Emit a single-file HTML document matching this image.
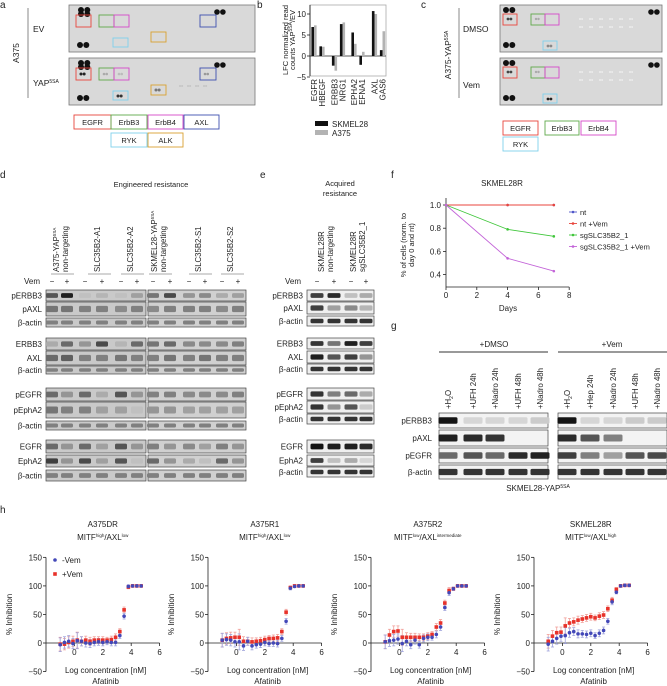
<!DOCTYPE html>
<html><head><meta charset="utf-8">
<style>
html,body{margin:0;padding:0;background:#fff;}
svg{display:block;font-family:"Liberation Sans",Arial,sans-serif;}
text{fill:#222;}
</style></head>
<body>
<svg id="fig" width="667" height="686" viewBox="0 0 667 686" xmlns="http://www.w3.org/2000/svg"></svg>
<script>
// ---------- panel b data ----------
const bCategories = ["EGFR","HBEGF","ERBB3","NRG1","EPHA2","EFNA1","AXL","GAS6"];
const bSkmel28 = [6.9,2.3,-2.3,7.6,5.6,-2.1,10.7,1.4];
const bA375 = [7.3,2.2,-3.5,8.0,2.9,1.0,10.0,5.9];
const bTicks = [10,5,0,-5];
// ---------- panel f data ----------
const fDays = [0,4,7];
const fNt = [1.0,1.0,1.0];
const fNtVem = [1.0,1.0,1.0];
const fSg = [1.0,0.79,0.73];
const fSgVem = [1.0,0.54,0.43];
const fXTicks = [0,2,4,6,8];
const fYTicks = [0.4,0.6,0.8,1.0];
// ---------- panel h data ----------
const hLogConc = [-1,-0.7,-0.4,-0.1,0.2,0.5,0.8,1.1,1.4,1.7,2.0,2.3,2.6,2.9,3.2,3.5,3.8,4.1,4.4,4.7];
const hTitles1 = ["A375DR","A375R1","A375R2","SKMEL28R"];
const hSup1 = ["high","high","low","low"];
const hSup2 = ["low","low","intermediate","high"];
const h1Minus = [-3,1,3,-1,4,3,0,-1,1,2,1,2,1,1,13,47,99,100,100,100];
const h1Plus  = [-2,-2,1,3,5,3,5,3,5,5,5,5,6,10,20,58,98,100,100,100];
const h2Minus = [5,6,5,2,2,-5,3,-5,-3,-2,1,-1,0,-1,8,38,96,99,100,100];
const h2Plus  = [5,8,9,10,10,3,3,2,3,4,6,8,8,9,20,54,97,100,100,100];
const h3Minus = [2,4,5,7,-1,3,-3,5,-3,8,10,10,15,28,62,88,95,100,100,100];
const h3Plus  = [2,14,20,21,10,10,10,10,10,10,12,15,28,35,70,92,95,100,100,100];
const h4Minus = [-2,3,8,12,13,18,20,16,16,15,17,13,17,22,38,72,89,100,101,101];
const h4Plus  = [3,12,18,19,30,35,37,40,42,44,46,44,47,49,60,75,94,100,101,101];
const hErr = [12,10,10,9,14,8,7,7,6,6,6,5,6,6,5,5,3,2,1,1];
const hXTicks = [0,2,4,6];
const hYTicks = [150,100,50,0,-50];

const NS="http://www.w3.org/2000/svg";
const svg=document.getElementById('fig');
function mk(tag,attrs,name,parent){
  const el=document.createElementNS(NS,tag);
  for(const k in attrs) el.setAttribute(k,attrs[k]);
  
  
  (parent||svg).appendChild(el);
  return el;
}
function txt(x,y,s,name,o){
  o=o||{};
  const a={x:x,y:y,'font-size':o.fs||7.5,'text-anchor':o.anchor||'start'};
  if(o.rot) a.transform='rotate(-90 '+x+' '+y+')';
  if(o.fill) a.fill=o.fill;
  const t=mk('text',a,name);
  t.innerHTML=s;
  return t;
}
function line(x1,y1,x2,y2,name,c,w){return mk('line',{x1:x1,y1:y1,x2:x2,y2:y2,stroke:c||'#222','stroke-width':w||0.8},name);}

[["a",0,8],["b",257,8],["c",421,8],["d",0,178],["e",260,178],["f",391,178],["g",391,329],["h",0,513]].forEach(p=>{
  txt(p[1],p[2],p[0],'panel-label-'+p[0],{fs:10});
});

function dotBlot(x,y,w,h,name){
  mk('rect',{x:x,y:y,width:w,height:h,fill:'#d9d9d9',stroke:'#777','stroke-width':0.8},name);
}
function pairDots(x,y,r,fill,name){
  mk('circle',{cx:x,cy:y,r:r,fill:fill},name);
  mk('circle',{cx:x+r*2.1,cy:y,r:r,fill:fill},name);
}
function box(x,y,w,h,c,name){mk('rect',{x:x,y:y,width:w,height:h,fill:'none',stroke:c,'stroke-width':0.9},name);}
txt(19,53,'A375','a-cell-line-label',{rot:true,anchor:'middle',fs:8.5});
line(28,8,28,98,'a-bracket-line','#888',1);
txt(33,32,'EV','a-ev-label',{fs:8.5});
txt(33,86,'YAP<tspan font-size="5" dy="-3">5SA</tspan>','a-yap-label',{fs:8.5});
const cols={egfr:'#e8453c',erbb3:'#5fa84a',erbb4:'#d447c8',axl:'#3d4fb0',ryk:'#7fd0ec',alk:'#d9a030'};
[[5,false],[58,true]].forEach(([y0,yap],k)=>{
  dotBlot(69,y0,186,47,'a-dot-blot-'+k);
  pairDots(81,y0+5,3,'#111','a-ref-dot'); pairDots(81,y0+9,3,'#111','a-ref-dot');
  pairDots(217,y0+7,2.8,'#111','a-ref-dot');
  pairDots(80,y0+40,3,'#111','a-ref-dot');
  box(76,y0+10,15,12,cols.egfr,'a-egfr-box');
  box(99,y0+10,15,12,cols.erbb3,'a-erbb3-box');
  box(114,y0+10,15,12,cols.erbb4,'a-erbb4-box');
  box(200,y0+10,16,12,cols.axl,'a-axl-box');
  box(113,y0+33,15,9,cols.ryk,'a-ryk-box');
  box(151,y0+27,15,10,cols.alk,'a-alk-box');
  if(yap){
    pairDots(81,y0+16,1.5,'#222','a-egfr-spot');
    pairDots(104,y0+16,1.3,'#aaa','a-erbb3-spot');
    pairDots(119,y0+16,1.3,'#bbb','a-erbb4-spot');
    pairDots(205,y0+16,1.3,'#999','a-axl-spot');
    pairDots(118,y0+38,1.5,'#333','a-ryk-spot');
    pairDots(156,y0+32,1.5,'#777','a-alk-spot');
    for(let i=0;i<4;i++){pairDots(180+i*8,y0+28,1,'#c4c4c4','a-faint-spot');}
  }
});
function legBox(x,y,w,h,c,label,name){
  box(x,y,w,h,c,name);
  txt(x+w/2,y+h/2+3,label,name+'-text',{anchor:'middle',fs:7.5});
}
legBox(74,115,37,14,cols.egfr,'EGFR','a-legend-egfr');
legBox(111,115,36,14,cols.erbb3,'ErbB3','a-legend-erbb3');
legBox(148,115,35,14,cols.erbb4,'ErbB4','a-legend-erbb4');
legBox(184,115,35,14,cols.axl,'AXL','a-legend-axl');
legBox(111,133,36,14,cols.ryk,'RYK','a-legend-ryk');
legBox(148,133,35,14,cols.alk,'ALK','a-legend-alk');

txt(451,55,'A375-YAP<tspan font-size="5" dy="-3">5SA</tspan>','c-cell-line-label',{rot:true,anchor:'middle',fs:8.5});
line(459,8,459,98,'c-bracket-line','#888',1);
txt(463,32,'DMSO','c-dmso-label',{fs:8.5});
txt(463,88,'Vem','c-vem-label',{fs:8.5});
[5,58].forEach((y0,k)=>{
  dotBlot(500,y0,162,47,'c-dot-blot-'+k);
  pairDots(506,y0+5,3,'#111','c-ref-dot');
  pairDots(651,y0+7,2.8,'#111','c-ref-dot');
  pairDots(506,y0+40,3,'#111','c-ref-dot');
  box(503,y0+9,14,11,cols.egfr,'c-egfr-box');
  box(531,y0+9,14,11,cols.erbb3,'c-erbb3-box');
  box(545,y0+9,14,11,cols.erbb4,'c-erbb4-box');
  box(543,y0+36,14,9,cols.ryk,'c-ryk-box');
  pairDots(508,y0+14,1.4,'#444','c-egfr-spot');
  pairDots(536,y0+14,1.2,'#aaa','c-erbb3-spot');
  pairDots(548,y0+41,1.4,k?'#222':'#888','c-ryk-spot');
  for(let i=0;i<6;i++){pairDots(580+i*10,y0+14,1,'#ececec','c-faint-spot');pairDots(580+i*10,y0+22,1,'#ececec','c-faint-spot');}
});
legBox(503,121,35,14,cols.egfr,'EGFR','c-legend-egfr');
legBox(545,121,34,14,cols.erbb3,'ErbB3','c-legend-erbb3');
legBox(581,121,35,14,cols.erbb4,'ErbB4','c-legend-erbb4');
legBox(503,137,35,14,cols.ryk,'RYK','c-legend-ryk');

// ---------- panel b chart ----------
const bY0=56, bPerUnit=4.2;
function bY(v){return bY0 - v*bPerUnit;}
function bX(i){return 314+ [0,8,20.5,28.5,40,48,60.5,68.5][i];}
mk('rect',{x:310,y:5,width:76,height:71,fill:'none',stroke:'#aaa','stroke-width':0.8},'b-plot-frame');
line(310,5,310,76,'b-y-axis','#222',0.9);
line(310,bY(0),386,bY(0),'b-zero-line','#222',0.7);
bTicks.forEach(t=>{line(307,bY(t),310,bY(t),'b-y-tick');txt(306,bY(t)+3,String(t).replace('-','−'),'b-y-tick-label',{anchor:'end',fs:8});});
txt(288,40,'LFC normalized read','b-y-axis-title-1',{rot:true,anchor:'middle',fs:7.5});
txt(295,40,'counts YAP<tspan font-size="5" dy="-3">5SA</tspan><tspan dy="3">/EV</tspan>','b-y-axis-title-2',{rot:true,anchor:'middle',fs:7.5});
bCategories.forEach((c,i)=>{
  const cx=bX(i);
  const v1=bSkmel28[i], v2=bA375[i];
  mk('rect',{x:cx-2.6,y:Math.min(bY(v1),bY(0)),width:2.6,height:Math.abs(bY(v1)-bY(0)),fill:'#111'},'b-bar-skmel28');
  mk('rect',{x:cx,y:Math.min(bY(v2),bY(0)),width:2.6,height:Math.abs(bY(v2)-bY(0)),fill:'#b3b3b3'},'b-bar-a375');
  txt(cx+3,79,c,'b-x-tick-label',{rot:true,anchor:'end',fs:8});
});
mk('rect',{x:315,y:121,width:13,height:5,fill:'#111'},'b-legend-skmel28-swatch');
txt(332,127,'SKMEL28','b-legend-skmel28',{fs:8});
mk('rect',{x:315,y:130,width:13,height:5,fill:'#b3b3b3'},'b-legend-a375-swatch');
txt(332,136,'A375','b-legend-a375',{fs:8});

// ---------- western blots ----------
function strip(x,y,w,h,bg,name){mk('rect',{x:x,y:y,width:w,height:h,fill:bg,stroke:'#444','stroke-width':0.7},name);}
function bands(lanes,ints,y,h,bw,name){
  lanes.forEach((lx,i)=>{
    const d=ints[i]; if(d<=0.02) return;
    const g=Math.round(235-215*d);
    mk('rect',{x:lx-bw/2,y:y+h*0.28,width:bw,height:h*0.44,rx:1.5,fill:'rgb('+g+','+g+','+g+')'},name);
  });
}
txt(151,187,'Engineered resistance','d-title',{anchor:'middle',fs:7.5});
const dLanes=[52,67,85,102,121,137,153,170,189,205,222,238];
const dColLabels=[['A375-YAP<tspan font-size="4.5" dy="-3">5SA</tspan>','non-targeting',60],['SLC35B2-A1',null,97],['SLC35B2-A2',null,130],['SKMEL28-YAP<tspan font-size="4.5" dy="-3">5SA</tspan>','non-targeting',158],['SLC35B2-S1',null,198],['SLC35B2-S2',null,230]];
dColLabels.forEach(c=>{
  if(c[1]){txt(c[2]-1,272,c[0],'d-column-label',{rot:true,fs:7.8});txt(c[2]+8,272,c[1],'d-column-label',{rot:true,fs:7.8});}
  else txt(c[2]+3,272,c[0],'d-column-label',{rot:true,fs:7.8});
  line(c[2]-9,274,c[2]+14,274,'d-column-underline','#555',0.6);
});
txt(40,284,'Vem','d-vem-label',{anchor:'end',fs:8});
dLanes.forEach((x,i)=>txt(x,284,i%2?'+':'−','d-vem-sign',{anchor:'middle',fs:8}));
const dRows=[
 ['pERBB3',290,11,[.7,.95,.2,.25,.2,.35,.55,.75,.4,.45,.3,.35]],
 ['pAXL',302,14,[.55,.55,.5,.5,.45,.5,.45,.5,.5,.5,.45,.5]],
 ['β-actin',318,9,[.5,.5,.5,.5,.5,.5,.5,.5,.5,.5,.5,.5]],
 ['ERBB3',338,12,[.3,.6,.4,.75,.25,.6,.55,.6,.45,.45,.45,.5]],
 ['AXL',351,14,[.6,.65,.5,.5,.55,.5,.5,.55,.5,.55,.5,.5]],
 ['β-actin',366,8,[.5,.5,.5,.5,.5,.5,.5,.5,.5,.5,.5,.5]],
 ['pEGFR',388,13,[.6,.4,.6,.3,.7,.4,.5,.5,.45,.45,.45,.5]],
 ['pEphA2',402,16,[.55,.5,.5,.35,.35,.2,.4,.4,.35,.35,.35,.35]],
 ['β-actin',421,9,[.5,.5,.5,.5,.5,.5,.5,.5,.5,.5,.5,.5]],
 ['EGFR',440,13,[.6,.4,.6,.35,.7,.4,.5,.4,.45,.35,.5,.4]],
 ['EphA2',455,12,[.8,.4,.75,.35,.7,.2,.6,.4,.3,.2,.6,.4]],
 ['β-actin',470,11,[.5,.5,.5,.5,.5,.5,.5,.5,.5,.5,.5,.5]]
];
dRows.forEach(r=>{
  txt(42,r[1]+r[2]/2+3,r[0],'d-row-label',{anchor:'end',fs:8});
  strip(46,r[1],100,r[2],'#c9c9c9','d-blot-strip');
  strip(148,r[1],98,r[2],'#d0d0d0','d-blot-strip');
  bands(dLanes,r[3],r[1],r[2],12,'d-band');
});
txt(340,186,'Acquired','e-title-1',{anchor:'middle'});
txt(340,196,'resistance','e-title-2',{anchor:'middle'});
[['SKMEL28R','non-targeting',321],['SKMEL28R','sgSLC35B2_1',353]].forEach(c=>{
  txt(c[2]+3,272,c[0],'e-column-label',{rot:true,fs:7.8});txt(c[2]+12,272,c[1],'e-column-label',{rot:true,fs:7.8});
});
const eLanes=[317,334,351,366];
txt(301,284,'Vem','e-vem-label',{anchor:'end',fs:8});
eLanes.forEach((x,i)=>txt(x,284,i%2?'+':'−','e-vem-sign',{anchor:'middle',fs:8}));
const eRows=[
 ['pERBB3',290,11,[.8,.9,.2,.3]],['pAXL',302,12,[.8,.35,.45,.25]],['β-actin',316,10,[.85,.85,.85,.85]],
 ['ERBB3',338,11,[.85,.55,.95,.8]],['AXL',351,12,[.95,.7,.8,.4]],['β-actin',364,10,[.85,.85,.85,.85]],
 ['pEGFR',388,12,[.85,.5,.6,.3]],['pEphA2',401,12,[.85,.4,.7,.15]],['β-actin',414,10,[.85,.85,.85,.85]],
 ['EGFR',440,13,[1,.95,.95,.9]],['EphA2',455,11,[.8,.2,.3,.1]],['β-actin',467,10,[.85,.85,.85,.85]]
];
eRows.forEach(r=>{
  txt(303,r[1]+r[2]/2+3,r[0],'e-row-label',{anchor:'end',fs:8});
  strip(307,r[1],67,r[2],'#efefef','e-blot-strip');
  bands(eLanes,r[3],r[1],r[2],13,'e-band');
});

// ---------- panel f chart ----------
const fX0=446, fPerDay=15.4, fYBase=205, fPerUnit=116;
function fx(d){return fX0+d*fPerDay;}
function fy(v){return fYBase-(v-1.0)*fPerUnit;}
txt(502,186,'SKMEL28R','f-title',{anchor:'middle',fs:8});
line(fx(0),198,fx(0),287,'f-y-axis');
line(fx(0),287,fx(8),287,'f-x-axis');
fYTicks.forEach(t=>{line(fx(0)-3,fy(t),fx(0),fy(t),'f-y-tick');txt(fx(0)-5,fy(t)+3,t.toFixed(1),'f-y-tick-label',{anchor:'end',fs:8});});
fXTicks.forEach(t=>{line(fx(t),287,fx(t),290,'f-x-tick');txt(fx(t),298,String(t),'f-x-tick-label',{anchor:'middle',fs:8});});
txt(508,311,'Days','f-x-axis-title',{anchor:'middle',fs:8});
txt(406,245,'% of cells (norm. to','f-y-axis-title-1',{rot:true,anchor:'middle',fs:7.5});
txt(414,245,'day 0 and nt)','f-y-axis-title-2',{rot:true,anchor:'middle',fs:7.5});
const fSeries=[[fNt,'#4f56c9','nt','f-series-nt'],[fNtVem,'#e8453c','nt +Vem','f-series-nt-vem'],[fSg,'#3fc63a','sgSLC35B2_1','f-series-sg'],[fSgVem,'#c364d8','sgSLC35B2_1 +Vem','f-series-sg-vem']];
fSeries.forEach((s,k)=>{
  const pts=fDays.map((d,i)=>fx(d)+','+fy(s[0][i])).join(' ');
  mk('polyline',{points:pts,fill:'none',stroke:s[1],'stroke-width':0.9},s[3]+'-line');
  fDays.forEach((d,i)=>{mk('circle',{cx:fx(d),cy:fy(s[0][i]),r:1.3,fill:s[1]},s[3]+'-point');});
  const ly=212+k*11.5;
  line(569,ly,577,ly,s[3]+'-legend-line',s[1],0.9);
  mk('circle',{cx:573,cy:ly,r:1.3,fill:s[1]},s[3]+'-legend-marker');
  txt(580,ly+3,s[2],s[3]+'-legend-label',{fs:7.5});
});

// ---------- panel g ----------
txt(494,347,'+DMSO','g-dmso-header',{anchor:'middle',fs:8});
line(439,352,548,352,'g-dmso-line','#333',1);
txt(612,347,'+Vem','g-vem-header',{anchor:'middle',fs:8});
line(558,352,667,352,'g-vem-line','#333',1);
const gLanes=[448,473,495,518,540,567,590,613,635,657];
const gLabels=['+H<tspan font-size="5" dy="2">2</tspan><tspan dy="-2">O</tspan>','+UFH 24h','+Nadro 24h','+UFH 48h','+Nadro 48h','+H<tspan font-size="5" dy="2">2</tspan><tspan dy="-2">O</tspan>','+Hep 24h','+Nadro 24h','+UFH 48h','+Nadro 48h'];
gLanes.forEach((x,i)=>txt(x+3,409,gLabels[i],'g-column-label',{rot:true,fs:7.8}));
const gRows=[
 ['pERBB3',413,15,[1,.1,.1,.1,.15,1,.1,.1,.15,.15]],
 ['pAXL',430,16,[.95,.9,.85,0,0,.9,.7,.5,0,0]],
 ['pEGFR',448,15,[.6,.7,.6,.9,.95,.8,.5,.35,.7,.75]],
 ['β-actin',465,14,[.85,.85,.85,.85,.85,.85,.85,.85,.85,.85]]
];
gRows.forEach(r=>{
  txt(432,r[1]+r[2]/2+3,r[0],'g-row-label',{anchor:'end',fs:8});
  strip(439,r[1],109,r[2],'#f3f3f3','g-blot-strip');
  strip(558,r[1],109,r[2],'#f3f3f3','g-blot-strip');
  bands(gLanes,r[3],r[1],r[2],19,'g-band');
});
txt(538,491,'SKMEL28-YAP<tspan font-size="5" dy="-3">5SA</tspan>','g-cell-line-label',{anchor:'middle',fs:8});

// ---------- panel h ----------
const hAxisX=[46,208,371,534];
const hPerUnit=14.2, hY0=643, hPerPct=0.571;
const hMinus=[h1Minus,h2Minus,h3Minus,h4Minus];
const hPlus=[h1Plus,h2Plus,h3Plus,h4Plus];
function hx(p,v){return hAxisX[p]+(v+2)*hPerUnit;}
function hy(v){return hY0-v*hPerPct;}
for(let p=0;p<4;p++){
  const cx=hx(p,2);
  txt(cx,527,hTitles1[p],'h-title-'+p,{anchor:'middle',fs:8});
  txt(cx,540,'MITF<tspan font-size="4.5" dy="-3">'+hSup1[p]+'</tspan><tspan dy="3">/AXL</tspan><tspan font-size="4.5" dy="-3">'+hSup2[p]+'</tspan>','h-subtitle-'+p,{anchor:'middle',fs:8});
  line(hAxisX[p],hy(150),hAxisX[p],hy(-50),'h-y-axis');
  line(hAxisX[p],hY0,hx(p,6),hY0,'h-x-axis');
  hYTicks.forEach(t=>{line(hAxisX[p]-3,hy(t),hAxisX[p],hy(t),'h-y-tick');txt(hAxisX[p]-4,hy(t)+3,String(t).replace('-','−'),'h-y-tick-label',{anchor:'end',fs:8});});
  hXTicks.forEach(t=>{line(hx(p,t),hY0,hx(p,t),hY0+3,'h-x-tick');txt(hx(p,t),hY0+12,String(t),'h-x-tick-label',{anchor:'middle',fs:8});});
  txt(hAxisX[p]-34,hy(50),'% Inhibition','h-y-axis-title',{rot:true,anchor:'middle',fs:8});
  txt(hx(p,2.2),673,'Log concentration [nM]','h-x-axis-title',{anchor:'middle',fs:8});
  txt(hx(p,2.2),684,'Afatinib','h-drug-label',{anchor:'middle',fs:8});
  [[hPlus[p],'#f0a09a','plus'],[hMinus[p],'#9fa3dc','minus']].forEach(s=>{
    hLogConc.forEach((c,i)=>{
      const x=hx(p,c), y=hy(s[0][i]), e=hErr[i]*hPerPct;
      if(e>1){line(x,y-e,x,y+e,'h-errorbar-'+s[2],s[1],0.8);line(x-1.5,y-e,x+1.5,y-e,'h-errorcap-'+s[2],s[1],0.8);line(x-1.5,y+e,x+1.5,y+e,'h-errorcap-'+s[2],s[1],0.8);}
    });
  });
  [[hPlus[p],'#e8322a','plus',true],[hMinus[p],'#4348b8','minus',false]].forEach(s=>{
    hLogConc.forEach((c,i)=>{
      const x=hx(p,c), y=hy(s[0][i]);
      if(s[3]) mk('rect',{x:x-1.8,y:y-1.8,width:3.6,height:3.6,fill:s[1]},'h-point-vem-'+s[2]);
      else mk('circle',{cx:x,cy:y,r:1.8,fill:s[1]},'h-point-vem-'+s[2]);
    });
  });
}
mk('circle',{cx:55,cy:560,r:1.8,fill:'#4348b8'},'h-legend-minus-marker');
txt(62,563,'-Vem','h-legend-minus-label',{fs:8});
mk('rect',{x:53.2,y:572.2,width:3.6,height:3.6,fill:'#e8322a'},'h-legend-plus-marker');
txt(62,577,'+Vem','h-legend-plus-label',{fs:8});
</script>
</body></html>
